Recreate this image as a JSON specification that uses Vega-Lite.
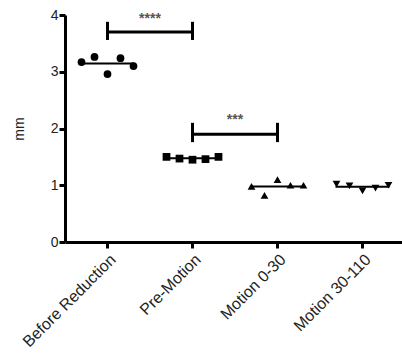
{
  "$schema": "https://vega.github.io/schema/vega-lite/v6.json",
  "width": 340,
  "height": 227,
  "autosize": {"type": "none"},
  "padding": {"left": 65, "top": 15, "right": 0, "bottom": 114},
  "background": "white",
  "config": {
    "view": {"stroke": null},
    "font": "Liberation Sans",
    "axis": {
      "domainColor": "black", "domainWidth": 3, "tickColor": "black", "tickWidth": 3,
      "tickSize": 6, "labelFont": "Liberation Sans", "labelFontSize": 14, "labelColor": "#222",
      "titleFont": "Liberation Sans", "titleFontWeight": "normal", "titleFontSize": 14, "titleColor": "#222", "grid": false
    }
  },
  "datasets": {
    "pts": [
      {"group": "Before Reduction", "rep": 1, "mm": 3.17},
      {"group": "Before Reduction", "rep": 2, "mm": 3.26},
      {"group": "Before Reduction", "rep": 3, "mm": 2.96},
      {"group": "Before Reduction", "rep": 4, "mm": 3.24},
      {"group": "Before Reduction", "rep": 5, "mm": 3.10},
      {"group": "Pre-Motion", "rep": 1, "mm": 1.50},
      {"group": "Pre-Motion", "rep": 2, "mm": 1.47},
      {"group": "Pre-Motion", "rep": 3, "mm": 1.45},
      {"group": "Pre-Motion", "rep": 4, "mm": 1.46},
      {"group": "Pre-Motion", "rep": 5, "mm": 1.50},
      {"group": "Motion 0-30", "rep": 1, "mm": 0.98},
      {"group": "Motion 0-30", "rep": 2, "mm": 0.82},
      {"group": "Motion 0-30", "rep": 3, "mm": 1.10},
      {"group": "Motion 0-30", "rep": 4, "mm": 1.00},
      {"group": "Motion 0-30", "rep": 5, "mm": 1.00},
      {"group": "Motion 30-110", "rep": 1, "mm": 1.02},
      {"group": "Motion 30-110", "rep": 2, "mm": 0.99},
      {"group": "Motion 30-110", "rep": 3, "mm": 0.90},
      {"group": "Motion 30-110", "rep": 4, "mm": 0.95},
      {"group": "Motion 30-110", "rep": 5, "mm": 1.00}
    ],
    "brackets": [
      {"from": "Before Reduction", "to": "Pre-Motion", "y": 3.70, "lo": 3.56, "hi": 3.88, "label": "****", "ly": 3.93},
      {"from": "Pre-Motion", "to": "Motion 0-30", "y": 1.90, "lo": 1.76, "hi": 2.10, "label": "***", "ly": 2.15}
    ]
  },
  "layer": [
    {
      "data": {"name": "pts"},
      "mark": {"type": "point", "filled": true, "opacity": 1, "size": 60, "color": "black"},
      "encoding": {
        "x": {"field": "group", "type": "nominal",
          "scale": {"domain": ["Before Reduction", "Pre-Motion", "Motion 0-30", "Motion 30-110"], "paddingInner": 0, "paddingOuter": 0},
          "axis": {"title": null, "labelAngle": -45, "labelAlign": "right", "labelBaseline": "top", "labelPadding": 3, "labelFontSize": 16}},
        "xOffset": {"field": "rep", "type": "ordinal", "scale": {"range": [16.5, 68.5], "paddingInner": 0, "paddingOuter": 0}},
        "y": {"field": "mm", "type": "quantitative", "scale": {"domain": [0, 4], "nice": false},
          "axis": {"values": [0, 1, 2, 3, 4], "format": "d", "title": "mm", "titlePadding": 24, "labelPadding": 1}},
        "shape": {"field": "group", "type": "nominal",
          "scale": {"domain": ["Before Reduction", "Pre-Motion", "Motion 0-30", "Motion 30-110"], "range": ["circle", "square", "triangle-up", "triangle-down"]}, "legend": null}
      }
    },
    {
      "data": {"name": "pts"},
      "mark": {"type": "tick", "color": "black", "thickness": 2, "size": 54, "orient": "horizontal"},
      "encoding": {
        "x": {"field": "group", "type": "nominal", "scale": {"domain": ["Before Reduction", "Pre-Motion", "Motion 0-30", "Motion 30-110"]}},
        "y": {"aggregate": "mean", "field": "mm", "type": "quantitative"}
      }
    },
    {
      "data": {"name": "brackets"},
      "mark": {"type": "rule", "color": "black", "strokeWidth": 3},
      "encoding": {
        "x": {"field": "from", "type": "nominal", "bandPosition": 0.5, "scale": {"domain": ["Before Reduction", "Pre-Motion", "Motion 0-30", "Motion 30-110"]}},
        "x2": {"field": "to", "bandPosition": 0.5},
        "y": {"field": "y", "type": "quantitative"}
      }
    },
    {
      "data": {"name": "brackets"},
      "mark": {"type": "rule", "color": "black", "strokeWidth": 3},
      "encoding": {
        "x": {"field": "from", "type": "nominal", "bandPosition": 0.5, "scale": {"domain": ["Before Reduction", "Pre-Motion", "Motion 0-30", "Motion 30-110"]}},
        "y": {"field": "lo", "type": "quantitative"},
        "y2": {"field": "hi"}
      }
    },
    {
      "data": {"name": "brackets"},
      "mark": {"type": "rule", "color": "black", "strokeWidth": 3},
      "encoding": {
        "x": {"field": "to", "type": "nominal", "bandPosition": 0.5, "scale": {"domain": ["Before Reduction", "Pre-Motion", "Motion 0-30", "Motion 30-110"]}},
        "y": {"field": "lo", "type": "quantitative"},
        "y2": {"field": "hi"}
      }
    },
    {
      "data": {"name": "brackets"},
      "mark": {"type": "text", "color": "#555", "fontSize": 14, "fontWeight": "bold", "baseline": "middle", "align": "center"},
      "encoding": {
        "x": {"field": "from", "type": "nominal", "bandPosition": 1, "scale": {"domain": ["Before Reduction", "Pre-Motion", "Motion 0-30", "Motion 30-110"]}},
        "y": {"field": "ly", "type": "quantitative"},
        "text": {"field": "label"}
      }
    }
  ]
}
